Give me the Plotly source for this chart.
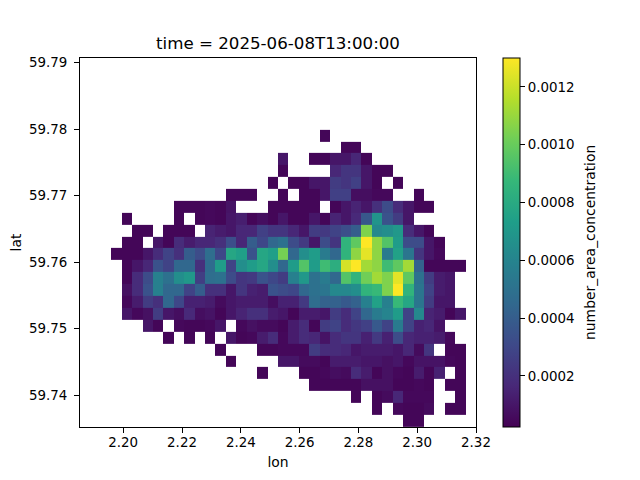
import plotly.graph_objects as go

_ = None
title = "time = 2025-06-08T13:00:00"
cbar_label = "number_area_concentration"
lon = [2.18707, 2.19062, 2.19416, 2.19771, 2.20125, 2.2048, 2.20834, 2.21189, 2.21543, 2.21898,
       2.22252, 2.22607, 2.22961, 2.23316, 2.2367, 2.24025, 2.24379, 2.24734, 2.25088, 2.25443,
       2.25797, 2.26152, 2.26506, 2.26861, 2.27215, 2.2757, 2.27924, 2.28279, 2.28633, 2.28988,
       2.29342, 2.29697, 2.30051, 2.30406, 2.3076, 2.31115, 2.31469, 2.31824]
lat = [59.7898, 59.7880, 59.7862, 59.7844, 59.7826, 59.7808, 59.7790, 59.7773, 59.7755, 59.7737,
       59.7719, 59.7701, 59.7683, 59.7665, 59.7647, 59.7630, 59.7612, 59.7594, 59.7576, 59.7558,
       59.7540, 59.7522, 59.7504, 59.7486, 59.7468, 59.7451, 59.7433, 59.7415, 59.7397, 59.7379,
       59.7361]
lon_ticks = [2.20, 2.22, 2.24, 2.26, 2.28, 2.30, 2.32]
lat_ticks = [59.74, 59.75, 59.76, 59.77, 59.78, 59.79]
cbar_ticks = [0.0002, 0.0004, 0.0006, 0.0008, 0.0010, 0.0012]

# number_area_concentration in units of 1e-5, rows from north to south
conc = [
    [_] * 38, [_] * 38, [_] * 38, [_] * 38, [_] * 38, [_] * 38,
    [_] * 23 + [4] + [_] * 14,
    [_] * 25 + [4, 4] + [_] * 11,
    [_] * 19 + [10, _, _, 4, 4, 10, 10, 16, 4] + [_] * 10,
    [_] * 19 + [4, _, _, _, _, 16, 22, 22, 10, 4, 4] + [_] * 8,
    [_] * 18 + [4, _, 4, 4, 10, 10, 25, 22, 27, 10, 4, _, 4] + [_] * 7,
    [_] * 14 + [4, 4, 4, _, _, 4, _, 4, 4, 10, 27, 27, 7, 7, 5, 5, _, _, 4] + [_] * 5,
    [_] * 9 + [4, 4, 4, 5, 4, 9, _, _, _, 4, 4, 4, 4, 4, _, 4, 10, 15, 10, 20, 32, 18, 10, 4, 4] + [_] * 4,
    [_] * 4 + [4, _, _, _, _, 4, _, 4, 5, 4, 10, 13, 4, 7, 4, 10, 4, 4, 10, 4, 15, 10, 17, 37, 68, 35, 25, 10] + [_] * 6,
    [_] * 5 + [4, 4, _, 4, 4, 4, _, 15, 12, 10, 16, 16, 27, 22, 22, 16, 10, 25, 24, 28, 33, 40, 105, 62, 65, 70, 18, 10, 4] + [_] * 4,
    [_] * 4 + [4, 4, _, 10, 4, 18, 12, 16, 16, 20, 33, 16, 40, 30, 45, 50, 32, 24, 10, 32, 22, 85, 98, 130, 108, 95, 72, 32, 32, 10, 4] + [_] * 3,
    [_] * 3 + [4, 4, 4, 10, 18, 28, 20, 40, 32, 48, 30, 78, 74, 35, 78, 74, 103, 45, 65, 72, 55, 45, 85, 108, 125, 108, 55, 75, 52, 22, 10, 5] + [_] * 3,
    [_] * 4 + [4, 10, 16, 35, 28, 45, 45, 20, 47, 72, 28, 65, 72, 78, 65, 45, 72, 95, 72, 90, 82, 122, 130, 112, 108, 90, 98, 112, 42, 4, 4, 4, 4] + [_],
    [_] * 4 + [4, 18, 32, 58, 50, 65, 70, 26, 48, 50, 32, 22, 24, 35, 30, 25, 58, 70, 50, 55, 45, 95, 85, 102, 112, 105, 125, 98, 50, 25, 12, 10] + [_] * 2,
    [_] * 4 + [8, 18, 35, 58, 45, 45, 28, 40, 20, 20, 10, 22, 14, 12, 35, 32, 30, 45, 50, 52, 62, 62, 65, 85, 88, 105, 130, 85, 52, 28, 12, 10] + [_] * 2,
    [_] * 4 + [5, 12, 25, 20, 45, 30, 14, 14, 12, 6, 10, 12, 12, 12, 7, 14, 14, 24, 48, 42, 42, 38, 42, 58, 75, 58, 88, 78, 52, 25, 10, 10] + [_] * 2,
    [_] * 4 + [10, 5, 8, 25, 10, 7, 17, 7, 9, 4, 10, 15, 20, 20, 12, 10, 4, 12, 12, 10, 25, 18, 28, 45, 55, 60, 72, 28, 62, 15, 12, 4, 10] + [_],
    [_] * 6 + [10, 4, _, 5, 4, 4, 5, 10, _, 5, 8, 6, 6, 4, 12, 18, 4, 25, 28, 18, 23, 27, 38, 28, 55, 28, 14, 16, 9] + [_] * 3,
    [_] * 8 + [4, _, 4, _, 4, _, 10, 4, 5, 12, 18, 5, 12, 18, 16, 9, 18, 22, 22, 14, 24, 14, 32, 16, 14, 14, 12, 5] + [_] * 2,
    [_] * 13 + [4, _, _, _, 4, 4, 5, 5, 5, 25, 18, 18, 16, 10, 12, 12, 12, 10, 16, 6, 22, _, 4, 4] + [_],
    [_] * 14 + [4, _, _, _, _, 10, 10, 6, 6, 4, 12, 12, 12, 10, 10, 8, 10, 5, 9, 9, 9, 5, 4] + [_],
    [_] * 17 + [4, _, _, _, 4, 4, 5, 7, 6, 18, 12, 4, 8, 5, 4, 12, 4, 14, _, 4] + [_],
    [_] * 22 + [4, 4, 4, 4, 4, 8, 8, 8, 4, 4, 5, 4, _, 4, 4] + [_],
    [_] * 26 + [4, _, 4, 6, 16, 5, 5, 5, _, _, 4] + [_],
    [_] * 28 + [4, _, 5, 4, 4, 6, _, 4, 4] + [_],
    [_] * 31 + [4, 4] + [_] * 5,
]
z = [[None if v is None else v * 1e-5 for v in row] for row in conc]

FONT = "DejaVu Sans"
TICK = dict(family=FONT, size=13.4, color="black")
LABEL = dict(family=FONT, size=13.9, color="black")
fig = go.Figure(go.Heatmap(
    x=lon, y=lat, z=z, zmin=2.3e-5, zmax=1.3e-3, colorscale="Viridis", hoverongaps=False,
    colorbar=dict(
        x=(503 - 80) / 396, xanchor="left", xpad=0, y=0.5, yanchor="middle", ypad=0,
        len=1, lenmode="fraction", thickness=17, thicknessmode="pixels",
        outlinecolor="black", outlinewidth=1,
        tickmode="array", tickvals=cbar_ticks, ticktext=[f"{t:.4f}" for t in cbar_ticks],
        ticks="outside", ticklen=5, tickwidth=1, tickcolor="black", tickfont=TICK,
    ),
))
axis = dict(showgrid=False, zeroline=False, showline=True, linecolor="black", linewidth=1,
            mirror=True, ticks="outside", ticklen=5, tickwidth=1, tickcolor="black", tickfont=TICK)
fig.update_xaxes(range=[2.1853, 2.3200], tickmode="array", tickvals=lon_ticks,
                 ticktext=[f"{t:.2f}" for t in lon_ticks], ticklabelstandoff=-2,
                 title=dict(text="lon", font=LABEL, standoff=8), **axis)
fig.update_yaxes(range=[59.73522, 59.79068], tickmode="array", tickvals=lat_ticks,
                 ticktext=[f"{t:.2f}" for t in lat_ticks], ticklabelstandoff=4,
                 title=dict(text="lat", font=LABEL, standoff=4), **axis)
fig.update_layout(
    width=640, height=480, autosize=False, paper_bgcolor="white", plot_bgcolor="white",
    margin=dict(l=80, r=164, t=58, b=53, pad=0),
    title=dict(text=title, x=278 / 640, xanchor="center", y=1 - 43 / 480, yanchor="middle",
               font=dict(family=FONT, size=16.67, color="black")),
    annotations=[dict(text=cbar_label, textangle=-90, xref="paper", yref="paper",
                      x=(589.5 - 80) / 396, y=0.5, xanchor="center", yanchor="middle",
                      showarrow=False, font=LABEL)],
)
fig.write_html("out.html", config={"displayModeBar": False},
               post_script="document.body.style.margin='0';")
